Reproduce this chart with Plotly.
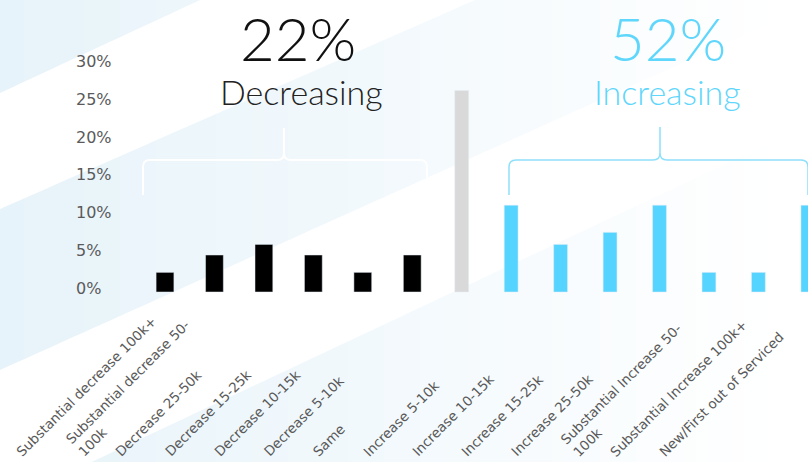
import plotly.graph_objects as go

# ---------------- data ----------------
categories = [
    "Substantial decrease 100k+", "Substantial decrease 50-100k", "Decrease 25-50k",
    "Decrease 15-25k", "Decrease 10-15k", "Decrease 5-10k", "Same",
    "Increase 5-10k", "Increase 10-15k", "Increase 15-25k", "Increase 25-50k",
    "Substantial Increase 50-100k", "Substantial Increase 100k+", "New/First out of Serviced",
]
tick_labels = [
    "Substantial decrease 100k+", "Substantial decrease 50-<br>100k", "Decrease 25-50k",
    "Decrease 15-25k", "Decrease 10-15k", "Decrease 5-10k", "Same",
    "Increase 5-10k", "Increase 10-15k", "Increase 15-25k", "Increase 25-50k",
    "Substantial Increase 50-<br>100k", "Substantial Increase 100k+", "New/First out of Serviced",
]
decreasing_values = [2.6, 4.9, 6.3, 4.9, 2.6, 4.9]
same_values = [26.7]
increasing_values = [11.5, 6.3, 7.9, 11.5, 2.6, 2.6, 11.5]
y_ticks = [0, 5, 10, 15, 20, 25, 30]
y_tick_text = ["0%", "5%", "10%", "15%", "20%", "25%", "30%"]
decreasing_share = "22%"
decreasing_label = "Decreasing"
increasing_share = "52%"
increasing_label = "Increasing"

# ---------------- geometry helpers ----------------
W, H = 808, 462
ML, MR, MT, MB = 70, 0, 50, 155
PW, PH = W - ML - MR, H - MT - MB
Y0_PIX, PX_PER_UNIT = 292, 7.55
y_hi = (Y0_PIX - MT) / PX_PER_UNIT
y_lo = -((H - MB) - Y0_PIX) / PX_PER_UNIT
FIRST_BAR_PIX, BAR_STEP_PIX = 165, 49.45
x_lo = -(FIRST_BAR_PIX - ML) / BAR_STEP_PIX
x_hi = x_lo + PW / BAR_STEP_PIX


def px(x):
    return (x - ML) / PW


def py(y):
    return (H - MB - y) / PH


BLACK = "#000000"
GREY_BAR = "#d9d9d9"
BLUE = "#55d4ff"
TEXT_GREY = "#5a5a5a"
LABEL_FONT = "DejaVu Sans"
TITLE_FONT = "Lato"

fig = go.Figure()
fig.add_trace(go.Bar(x=categories[:6], y=decreasing_values, marker_color=BLACK,
                     width=0.36, hoverinfo="x+y"))
fig.add_trace(go.Bar(x=categories[6:7], y=same_values, marker_color=GREY_BAR,
                     width=0.28, hoverinfo="x+y"))
fig.add_trace(go.Bar(x=categories[7:], y=increasing_values, marker_color=BLUE,
                     width=0.28, hoverinfo="x+y"))

shapes = []
# ---- background diagonal bands fading to the right ----
bands = [
    ((-60, 0.0), (93, -0.465)),
    ((209, -0.44), (370, -0.45)),
    ((505, -0.47), (560, 0.0)),
]
step = 12
x = 0
while x < 780:
    xa, xb = x, x + step
    xm = (xa + xb) / 2
    alpha = 0.44 * max(0.0, 1 - xm / 780)
    for (c1, s1), (c2, s2) in bands:
        pts = [(xa, c1 + s1 * xa), (xb, c1 + s1 * xb), (xb, c2 + s2 * xb), (xa, c2 + s2 * xa)]
        path = "M " + " L ".join(f"{px(a):.5f},{py(b):.5f}" for a, b in pts) + " Z"
        shapes.append(dict(type="path", path=path, xref="paper", yref="paper",
                           fillcolor=f"rgba(200,228,243,{alpha:.3f})",
                           line=dict(width=0), layer="below"))
    x += step


def brace(x0, x1, xm, yh, yb, ytop, r=7):
    p = lambda a, b: f"{px(a):.5f},{py(b):.5f}"
    return (f"M {p(x0, yb)} L {p(x0, yh + r)} Q {p(x0, yh)} {p(x0 + r, yh)} "
            f"L {p(xm - r, yh)} Q {p(xm, yh)} {p(xm, yh - r)} L {p(xm, ytop)} "
            f"M {p(xm, ytop)} L {p(xm, yh - r)} Q {p(xm, yh)} {p(xm + r, yh)} "
            f"L {p(x1 - r, yh)} Q {p(x1, yh)} {p(x1, yh + r)} L {p(x1, yb)}")


shapes.append(dict(type="path", path=brace(143, 427, 284, 160, 195, 128),
                   xref="paper", yref="paper", line=dict(color="#ffffff", width=2),
                   layer="below"))
shapes.append(dict(type="path", path=brace(509, 808, 660, 160, 195, 127),
                   xref="paper", yref="paper", line=dict(color="#8fe0fb", width=1.5),
                   layer="below"))

annotations = []
# x labels anchored at their start, like the reference
for cat, lab in zip(categories, tick_labels):
    annotations.append(dict(x=cat, y=0, xref="x", yref="y", text=lab, showarrow=False,
                            textangle=-45, xanchor="left", yanchor="bottom", align="left",
                            xshift=-153, yshift=-169, borderpad=0,
                            font=dict(family=LABEL_FONT, size=13.5, color=TEXT_GREY)))

annotations += [
    dict(x=px(298), y=py(38), xref="paper", yref="paper", text=decreasing_share,
         showarrow=False, xanchor="center", yanchor="middle",
         font=dict(family=TITLE_FONT, size=60, color="#111111", weight=300)),
    dict(x=px(301), y=py(91), xref="paper", yref="paper", text=decreasing_label,
         showarrow=False, xanchor="center", yanchor="middle",
         font=dict(family=TITLE_FONT, size=34, color="#222222", weight=300)),
    dict(x=px(668), y=py(38), xref="paper", yref="paper", text=increasing_share,
         showarrow=False, xanchor="center", yanchor="middle",
         font=dict(family=TITLE_FONT, size=60, color="#5fd6fb", weight=300)),
    dict(x=px(667), y=py(91), xref="paper", yref="paper", text=increasing_label,
         showarrow=False, xanchor="center", yanchor="middle",
         font=dict(family=TITLE_FONT, size=34, color="#5fd6fb", weight=300)),
]

fig.update_layout(
    width=W, height=H,
    margin=dict(l=ML, r=MR, t=MT, b=MB, pad=0, autoexpand=False),
    paper_bgcolor="white", plot_bgcolor="rgba(0,0,0,0)",
    barmode="overlay", showlegend=False,
    shapes=shapes, annotations=annotations,
    xaxis=dict(type="category", categoryorder="array", categoryarray=categories,
               range=[x_lo, x_hi], showticklabels=False, showgrid=False,
               zeroline=False, showline=False, ticks=""),
    yaxis=dict(range=[y_lo, y_hi], tickvals=y_ticks, ticktext=y_tick_text,
               ticklabelposition="inside", ticklabelstandoff=3, ticklabelshift=-4,
               showgrid=False, zeroline=False, showline=False, ticks="",
               tickfont=dict(family=LABEL_FONT, size=16, color=TEXT_GREY)),
)

fig.write_html(
    "out.html",
    config={"displayModeBar": False},
    post_script="document.body.style.margin='0';document.body.style.overflow='hidden';",
)
